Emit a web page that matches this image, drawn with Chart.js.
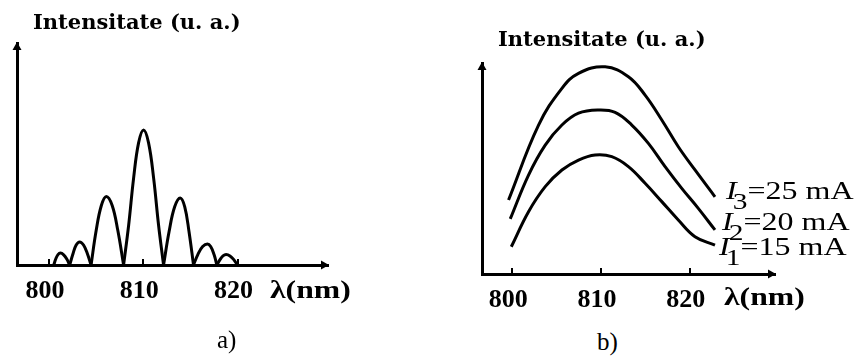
<!DOCTYPE html>
<html>
<head>
<meta charset="utf-8">
<script src="https://cdn.jsdelivr.net/npm/chart.js@4"></script>
<style>
    body { margin: 0; background: #fff; }
    #wrap { position: relative; width: 855px; height: 356px; overflow: hidden; }
    canvas { position: absolute; }
    .txt { position: absolute; color: #000; white-space: nowrap; line-height: 1; transform-origin: 0 0; }
    .title { font-family: 'DejaVu Serif', serif; font-weight: bold; font-size: 21px; }
    .unit { font-family: 'Liberation Serif', serif; font-weight: bold; font-size: 26px; transform: scaleX(1.22); }
    .panel { font-family: 'Liberation Serif', serif; font-size: 25px; }
    .cur { font-family: 'Liberation Serif', serif; font-size: 25px; transform: scaleX(1.28); }
    .cur i { font-style: italic; }
    .cur sub { font-size: 23px; vertical-align: -10px; margin-left: -3px; }
</style>
</head>
<body>
<div id="wrap">
    <canvas id="chartA" width="380" height="310" style="left:0;top:0"></canvas>
    <canvas id="chartB" width="415" height="320" style="left:440px;top:0"></canvas>

    <div class="txt title" style="left:33px;top:11px">Intensitate (u. a.)</div>
    <div class="txt title" style="left:498px;top:28px">Intensitate (u. a.)</div>
    <div class="txt unit" style="left:270px;top:277px">λ(nm)</div>
    <div class="txt unit" style="left:724px;top:284px">λ(nm)</div>
    <div class="txt panel" style="left:217px;top:327px">a)</div>
    <div class="txt panel" style="left:597px;top:329px">b)</div>

    <div class="txt cur" style="left:726px;top:178px"><i>I</i><sub>3</sub>=25 mA</div>
    <div class="txt cur" style="left:722px;top:209px"><i>I</i><sub>2</sub>=20 mA</div>
    <div class="txt cur" style="left:719px;top:234px"><i>I</i><sub>1</sub>=15 mA</div>
</div>
<script>
    // axis
    const tickValues = [800, 810, 820];
    const lambdaMin = 796.6;
    const lambdaMax = 829.6;

    // a) spectrum (central lobe + side lobes)
    const lambdaA = [
        800.50, 800.72, 800.95, 801.21, 801.55, 801.88, 802.19,
        802.55, 802.88, 803.25, 803.66, 804.06, 804.46,
        805.00, 805.55, 806.08, 806.70, 807.30, 807.91,
        808.45, 808.97, 809.50, 810.03, 810.56, 811.10, 811.62, 812.15,
        812.74, 813.33, 813.92, 814.40, 814.85, 815.33,
        815.80, 816.30, 816.81, 817.15, 817.50, 817.81,
        818.14, 818.46, 818.79, 819.20, 819.60, 819.99
    ];
    const intensityA = [
        0, 2.8, 4.7, 5.4, 4.6, 2.7, 0,
        5.2, 9.0, 10.4, 9.0, 5.2, 0,
        15.5, 26.8, 30.9, 26.8, 15.5, 0,
        18, 39, 55, 60.8, 55, 39, 18, 0,
        15.1, 26.2, 30.2, 26.2, 15.1, 0,
        4.8, 8.3, 9.5, 8.3, 4.8, 0,
        2.4, 4.1, 4.7, 4.1, 2.4, 0
    ];

    // b) three drive currents
    const currents = ['I3 = 25 mA', 'I2 = 20 mA', 'I1 = 15 mA'];
    const lambdaI3 = [799.59, 802.97, 805.60, 807.47, 810.47, 813.09, 814.97, 816.85, 818.71, 820.59, 822.84];
    const intensityI3 = [35.1, 70.6, 88.0, 95.1, 98.2, 93.5, 84.8, 73.0, 60.3, 49.3, 36.6];
    const lambdaI2 = [799.78, 801.84, 803.72, 805.60, 807.47, 809.72, 811.59, 813.47, 815.34, 817.22, 819.10, 820.96, 822.84];
    const intensityI2 = [26.1, 46.9, 61.1, 70.6, 76.2, 77.7, 76.6, 70.6, 61.9, 50.9, 40.6, 31.1, 20.9];
    const lambdaI1 = [799.90, 801.84, 803.72, 805.60, 807.47, 809.34, 811.22, 813.09, 814.97, 816.85, 818.71, 820.59, 822.84];
    const intensityI1 = [12.9, 29.5, 41.4, 49.3, 54.0, 56.4, 55.6, 50.9, 43.0, 34.3, 25.6, 17.7, 13.7];

    const toPoints = (xs, ys) => xs.map((x, i) => ({ x, y: ys[i] }));

    // arrow heads at the ends of both axes
    const axisArrows = {
        id: 'axisArrows',
        afterDraw(chart) {
            const { ctx, chartArea: { left, right, top, bottom } } = chart;
            ctx.save();
            ctx.fillStyle = '#000';
            ctx.beginPath();
            ctx.moveTo(left, top - 1);
            ctx.lineTo(left - 4.5, top + 7);
            ctx.lineTo(left + 4.5, top + 7);
            ctx.closePath();
            ctx.fill();
            ctx.beginPath();
            ctx.moveTo(right + 1, bottom);
            ctx.lineTo(right - 7, bottom - 4.5);
            ctx.lineTo(right - 7, bottom + 4.5);
            ctx.closePath();
            ctx.fill();
            ctx.restore();
        }
    };

    const makeOptions = (pad, axisHeight, labelPad) => ({
        responsive: false,
        animation: false,
        layout: { padding: pad },
        plugins: { legend: { display: false }, tooltip: { enabled: false } },
        elements: { point: { radius: 0 } },
        scales: {
            x: {
                type: 'linear',
                min: lambdaMin,
                max: lambdaMax,
                afterBuildTicks: s => { s.ticks = tickValues.map(v => ({ value: v })); },
                afterFit: s => { s.height = axisHeight; },
                grid: { display: true, drawOnChartArea: false, tickLength: -6, color: '#000', lineWidth: 2 },
                border: { display: true, color: '#000', width: 3 },
                ticks: {
                    color: '#000',
                    padding: labelPad,
                    labelOffset: -4,
                    maxRotation: 0,
                    font: { family: "'Liberation Serif', 'Times New Roman', serif", weight: 'bold', size: 26 },
                    callback: v => String(v)
                }
            },
            y: {
                min: 0,
                max: 100,
                afterFit: s => { s.width = 0; },
                grid: { display: false },
                border: { display: true, color: '#000', width: 3 },
                ticks: { display: false }
            }
        }
    });

    // split the spectrum into lobes at its zeros so each lobe meets the axis in a sharp V
    const lobes = [];
    let current = [];
    lambdaA.forEach((x, i) => {
        current.push({ x, y: intensityA[i] });
        if (intensityA[i] === 0 && current.length > 1) {
            lobes.push(current);
            current = [{ x, y: 0 }];
        }
    });

    new Chart(document.getElementById('chartA'), {
        type: 'line',
        data: {
            datasets: lobes.map(pts => ({
                data: pts,
                borderColor: '#000',
                borderWidth: 3,
                tension: 0.4,
                fill: false
            }))
        },
        options: makeOptions({ left: 17, top: 43, right: 52, bottom: 0 }, 45, 17),
        plugins: [axisArrows]
    });

    new Chart(document.getElementById('chartB'), {
        type: 'line',
        data: {
            datasets: [
                { label: currents[0], data: toPoints(lambdaI3, intensityI3) },
                { label: currents[1], data: toPoints(lambdaI2, intensityI2) },
                { label: currents[2], data: toPoints(lambdaI1, intensityI1) }
            ].map(d => Object.assign(d, { borderColor: '#000', borderWidth: 3, tension: 0.4, fill: false }))
        },
        options: makeOptions({ left: 42, top: 63, right: 80, bottom: 0 }, 46, 17),
        plugins: [axisArrows]
    });
</script>
</body>
</html>
